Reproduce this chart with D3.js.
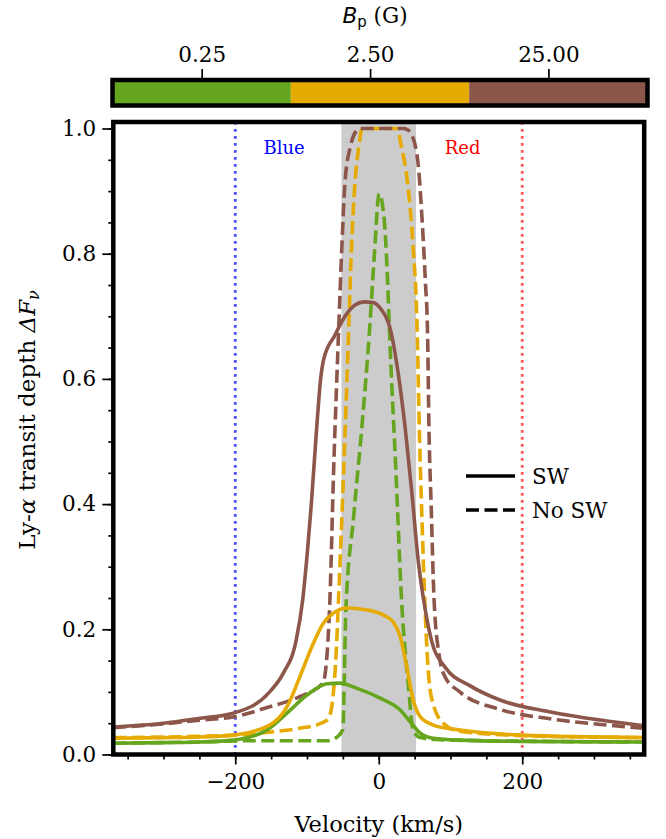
<!DOCTYPE html>
<html><head><meta charset="utf-8">
<script src="https://cdn.jsdelivr.net/npm/d3@7"></script>
<style>body{margin:0;background:#fff}svg{display:block}text{font-family:"DejaVu Serif",serif}</style>
</head><body><svg id="c" width="666" height="839"></svg>
<script>
// ---- data ----
const bpBoundaries = [0, 0.5, 5, 50];
const bpTicks = [0.25, 2.5, 25];
const bpTickLabels = ["0.25", "2.50", "25.00"];
const seriesColors = ["#66a61e", "#e6ab02", "#8c564b"]; // Bp 0.25, 2.5, 25
const xTicks = [-200, 0, 200];
const yTicks = [0, 0.2, 0.4, 0.6, 0.8, 1.0];

// SW (solid)
const greenSW = [[-370,0.018],[-300,0.019],[-249,0.020],[-203,0.023],[-156,0.039],[-128,0.066],[-100,0.095],[-72,0.113],[-54,0.114],[-31,0.106],[2,0.090],[30,0.071],[44,0.052],[58,0.034],[76,0.026],[113,0.023],[200,0.021],[370,0.020]];
const orangeSW = [[-370,0.026],[-300,0.027],[-249,0.028],[-203,0.031],[-152,0.047],[-128,0.076],[-110,0.124],[-91,0.178],[-77,0.210],[-63,0.226],[-44,0.234],[-17,0.231],[6,0.223],[20,0.212],[30,0.188],[39,0.140],[48,0.087],[58,0.060],[76,0.047],[113,0.039],[200,0.031],[370,0.027]];
const brownSW = [[-370,0.044],[-300,0.050],[-249,0.058],[-203,0.066],[-152,0.100],[-133,0.130],[-115,0.183],[-106,0.247],[-99,0.33],[-94,0.40],[-86,0.53],[-81,0.60],[-77,0.63],[-61,0.67],[-47,0.70],[-33,0.718],[-20,0.723],[-8,0.722],[2,0.713],[16,0.68],[27,0.61],[37,0.52],[46,0.42],[55,0.31],[65,0.23],[74,0.18],[92,0.14],[127,0.11],[169,0.087],[239,0.068],[309,0.055],[370,0.046]];

// No SW (dashed)
const greenNoSW = [[-370,0.018],[-250,0.020],[-180,0.022],[-72,0.022],[-58,0.028],[-50,0.04],[-48,0.12],[-46,0.226],[-35,0.38],[-23,0.53],[-13,0.675],[-6,0.80],[0.5,0.896],[7.5,0.856],[12,0.765],[15,0.675],[24,0.45],[32,0.242],[41,0.114],[48,0.039],[58,0.027],[80,0.024],[150,0.022],[370,0.020]];
const orangeNoSW = [[-370,0.027],[-250,0.029],[-200,0.031],[-150,0.036],[-110,0.042],[-80,0.050],[-70,0.058],[-64,0.09],[-59,0.17],[-56,0.25],[-49,0.45],[-42,0.675],[-38,0.809],[-33,0.915],[-28,0.969],[-23,1.0],[25,1.0],[32,0.969],[40,0.915],[48,0.809],[53,0.70],[57,0.50],[61,0.35],[65,0.22],[70,0.12],[76,0.08],[90,0.05],[110,0.038],[150,0.033],[200,0.030],[370,0.027]];
const brownNoSW = [[-370,0.043],[-300,0.049],[-249,0.055],[-203,0.060],[-153,0.076],[-111,0.092],[-78,0.114],[-74,0.135],[-68,0.25],[-63,0.45],[-56,0.675],[-51.5,0.809],[-47,0.915],[-40,0.969],[-32,0.995],[-26,1.0],[34,1.0],[40,0.998],[46,0.99],[55,0.942],[60,0.862],[65,0.755],[68,0.675],[70,0.52],[73,0.40],[77,0.25],[84,0.16],[92,0.125],[113,0.10],[169,0.072],[239,0.057],[309,0.048],[370,0.042]];

const shadeRange = [-52, 52];
const markerLines = [{v:-200, color:"rgba(26,26,255,0.78)", label:"Blue", lx:-132, tcolor:"#0000ff"},
                     {v:200, color:"rgba(255,40,40,0.78)", label:"Red", lx:117, tcolor:"#ff0000"}];
const legendItems = [{label:"SW", dash:null},{label:"No SW", dash:"13,5.5"}];

// ---- layout ----
const svg = d3.select("#c");
const L = 113.3, R = 644.2, T = 122, B = 754.5;
const FS = 21.5;
const x = d3.scaleLinear().domain([-370, 370]).range([L, R]);
const y = d3.scaleLinear().domain([0, 1.0104]).range([B, T]);

// shaded band
svg.append("rect").attr("x", x(shadeRange[0])).attr("y", T).attr("width", x(shadeRange[1]) - x(shadeRange[0])).attr("height", B - T).attr("fill", "#cccccc");

// vertical dotted markers
markerLines.forEach(m => {
  svg.append("line").attr("x1", x(m.v)).attr("x2", x(m.v)).attr("y1", T).attr("y2", B)
    .attr("stroke", m.color).attr("stroke-width", 2.8).attr("stroke-dasharray", "2.8,4.2");
  svg.append("text").attr("x", x(m.lx)).attr("y", 154).attr("text-anchor", "middle")
    .attr("font-size", 18).attr("fill", m.tcolor).text(m.label);
});

const line = d3.line().x(d => x(d[0])).y(d => y(d[1])).curve(d3.curveMonotoneX);
const series = [
  {d: greenNoSW, c: seriesColors[0], dash: "13,5.5"},
  {d: orangeNoSW, c: seriesColors[1], dash: "13,5.5"},
  {d: brownNoSW, c: seriesColors[2], dash: "13,5.5"},
  {d: greenSW, c: seriesColors[0], dash: null},
  {d: orangeSW, c: seriesColors[1], dash: null},
  {d: brownSW, c: seriesColors[2], dash: null},
];
svg.append("clipPath").attr("id", "clp").append("rect").attr("x", L).attr("y", T).attr("width", R - L).attr("height", B - T);
const g = svg.append("g").attr("clip-path", "url(#clp)");
series.forEach(s => {
  g.append("path").attr("d", line(s.d)).attr("fill", "none").attr("stroke", s.c)
    .attr("stroke-width", 3.6).attr("stroke-dasharray", s.dash).attr("stroke-linejoin", "round");
});

// axes
const xAxis = d3.axisBottom(x).tickValues(xTicks).tickSize(10).tickPadding(9).tickFormat(d => d < 0 ? "\u2212" + Math.abs(d) : d);
const xMinor = d3.axisBottom(x).tickValues(d3.range(-350, 351, 50)).tickSize(5).tickFormat("");
const yAxis = d3.axisLeft(y).tickValues(yTicks).tickSize(11).tickPadding(6).tickFormat(d3.format(".1f"));
const yMinor = d3.axisLeft(y).tickValues(d3.range(0, 1.001, 0.05)).tickSize(5).tickFormat("");
function style(gg){ gg.select(".domain").remove(); gg.selectAll("line").attr("stroke", "#000").attr("stroke-width", 1.7); gg.selectAll("text").attr("font-family", "DejaVu Serif").attr("font-size", FS).attr("fill", "#000"); }
svg.append("g").attr("transform", `translate(0,${B})`).call(xMinor).call(style);
svg.append("g").attr("transform", `translate(0,${B})`).call(xAxis).call(style);
svg.append("g").attr("transform", `translate(${L},0)`).call(yMinor).call(style);
svg.append("g").attr("transform", `translate(${L},0)`).call(yAxis).call(style);

// frame
svg.append("rect").attr("x", L).attr("y", T).attr("width", R - L).attr("height", B - T).attr("fill", "none").attr("stroke", "#000").attr("stroke-width", 4.5);

// axis labels
svg.append("text").attr("x", (L + R) / 2).attr("y", 832).attr("text-anchor", "middle").attr("font-size", 22.5).text("Velocity (km/s)");
const yl = svg.append("text").attr("transform", `translate(35,420) rotate(-90)`).attr("text-anchor", "middle").attr("font-size", 23);
yl.append("tspan").text("Ly-");
yl.append("tspan").attr("font-style", "italic").text("α");
yl.append("tspan").text(" transit depth ");
yl.append("tspan").attr("font-style", "italic").text("ΔF");
yl.append("tspan").attr("font-style", "italic").attr("font-size", 16).attr("dy", 4).text("ν");

// legend
legendItems.forEach((it, i) => {
  const ly = 476 + i * 34;
  svg.append("line").attr("x1", 466).attr("x2", 515).attr("y1", ly).attr("y2", ly).attr("stroke", "#000").attr("stroke-width", 3.6).attr("stroke-dasharray", it.dash);
  svg.append("text").attr("x", 532).attr("y", ly + 8).attr("font-size", FS).text(it.label);
});

// colorbar
const cL = 112.5, cR = 647.5, cT = 80, cB = 105.5;
const cx = d3.scaleLinear().domain(bpBoundaries).range([cL, cL + (cR - cL) / 3, cL + 2 * (cR - cL) / 3, cR]);
for (let i = 0; i < 3; i++) {
  svg.append("rect").attr("x", cx(bpBoundaries[i])).attr("y", cT).attr("width", cx(bpBoundaries[i + 1]) - cx(bpBoundaries[i])).attr("height", cB - cT).attr("fill", seriesColors[i]);
}
const cAxis = d3.axisTop(cx).tickValues(bpTicks).tickSize(11).tickPadding(7).tickFormat((d, i) => bpTickLabels[i]);
svg.append("g").attr("transform", `translate(0,${cT})`).call(cAxis).call(style);
svg.append("rect").attr("x", cL).attr("y", cT).attr("width", cR - cL).attr("height", cB - cT).attr("fill", "none").attr("stroke", "#000").attr("stroke-width", 4.5);
const cl = svg.append("text").attr("x", 375).attr("y", 23).attr("text-anchor", "middle").attr("font-size", FS);
cl.append("tspan").attr("font-family", "DejaVu Sans").attr("font-style", "italic").text("B");
cl.append("tspan").attr("font-family", "DejaVu Sans").attr("font-size", 15).attr("dy", 4).text("p");
cl.append("tspan").attr("dy", -4).text(" (G)");
</script></body></html>
